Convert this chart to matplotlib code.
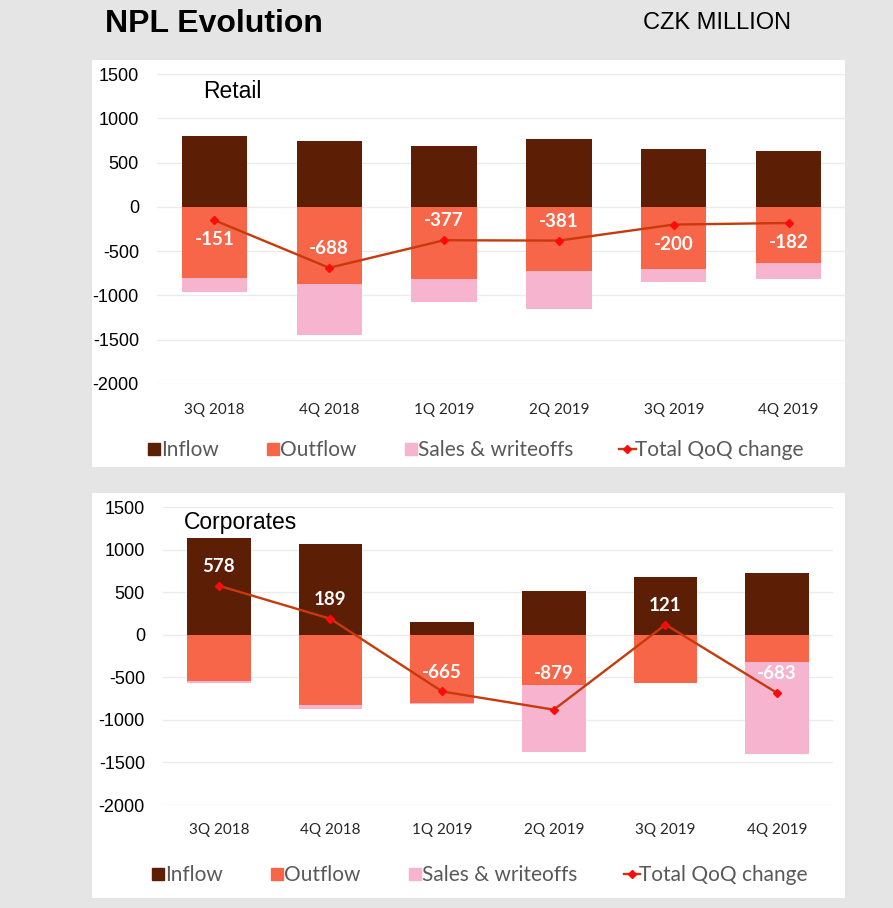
import numpy as np
import matplotlib.pyplot as plt
from matplotlib.patches import Rectangle
from matplotlib.lines import Line2D

quarters = ['3Q 2018', '4Q 2018', '1Q 2019', '2Q 2019', '3Q 2019', '4Q 2019']

retail_inflow = [800, 745, 685, 765, 650, 628]
retail_outflow = [-808, -872, -819, -725, -703, -638]
retail_sales = [-158, -575, -256, -429, -150, -177]
retail_qoq = [-151, -688, -377, -381, -200, -182]

corp_inflow = [1144, 1067, 149, 514, 678, 733]
corp_outflow = [-537, -823, -803, -588, -561, -314]
corp_sales = [-31, -44, -10, -792, 0, -1089]
corp_qoq = [578, 189, -665, -879, 121, -683]

y_ticks = [1500, 1000, 500, 0, -500, -1000, -1500, -2000]

# label offsets (points) above/below the line markers
retail_lbl_off = [-14, 14, 14, 14, -14, -14]
corp_lbl_off = [14, 14, 14, 26, 14, 14]

C_IN = '#5c1e05'
C_OUT = '#f8664a'
C_SALES = '#f6b4cf'
C_LINE = '#c63a0c'
C_MARK = '#ff0a0a'
BG = '#e5e5e5'


def panel(fig, rect, ax_rect, title, title_xy, inflow, outflow, sales, qoq, offs, leg_xy, xpad):
    fig.add_artist(Rectangle(rect[:2], rect[2], rect[3], transform=fig.transFigure,
                             facecolor='white', edgecolor='none', zorder=0))
    ax = fig.add_axes(ax_rect)
    x = np.arange(len(quarters))
    w = 0.57
    ax.bar(x, inflow, w, color=C_IN, zorder=2)
    ax.bar(x, outflow, w, color=C_OUT, zorder=2)
    ax.bar(x, sales, w, bottom=outflow, color=C_SALES, zorder=2)
    ax.plot(x, qoq, color=C_LINE, lw=1.7, marker='D', ms=4.5, mfc=C_MARK, mec=C_MARK, zorder=3)
    for xi, v, o in zip(x, qoq, offs):
        ax.annotate(str(v), (xi, v), xytext=(0, o), textcoords='offset points',
                    ha='center', va='center', color='white', fontweight='bold',
                    fontsize=13.5, family='Lato', zorder=4)
    ax.set_xlim(-0.5, len(quarters) - 0.5)
    ax.set_ylim(-2000, 1500)
    ax.set_yticks(y_ticks)
    ax.set_yticklabels([str(t) for t in y_ticks], family='Liberation Sans', fontsize=13)
    ax.set_xticks(x)
    ax.set_xticklabels(quarters, family='Lato', fontsize=11, color='#262626')
    ax.tick_params(length=0)
    ax.tick_params(axis='y', pad=13)
    ax.tick_params(axis='x', pad=xpad)
    ax.grid(axis='y', color='#ebebeb', lw=1, zorder=0)
    for s in ax.spines.values():
        s.set_visible(False)
    ax.set_facecolor('none')
    fig.text(title_xy[0], title_xy[1], title, family='Liberation Sans', fontsize=16.5,
             va='center', ha='left')

    handles = [Line2D([], [], ls='none', marker='s', ms=9, mfc=C_IN, mec=C_IN),
               Line2D([], [], ls='none', marker='s', ms=9, mfc=C_OUT, mec=C_OUT),
               Line2D([], [], ls='none', marker='s', ms=9, mfc=C_SALES, mec=C_SALES),
               Line2D([], [], color=C_LINE, lw=1.7, marker='D', ms=4, mfc=C_MARK, mec=C_MARK)]
    labels = ['Inflow', 'Outflow', 'Sales & writeoffs', 'Total QoQ change']
    leg = ax.legend(handles, labels, ncol=4, loc='center', bbox_to_anchor=leg_xy,
                    bbox_transform=fig.transFigure, frameon=False,
                    prop={'family': 'Lato', 'size': 15}, handlelength=0.8,
                    handletextpad=-0.05, columnspacing=2.2, borderpad=0)
    for t in leg.get_texts():
        t.set_color('#595959')
    return ax


fig = plt.figure(figsize=(8.93, 9.08), dpi=100, facecolor=BG)

panel(fig, (0.103, 0.4857, 0.8432, 0.4482), (0.1758, 0.5771, 0.7716, 0.3414),
      'Retail', (0.2273, 0.899),
      retail_inflow, retail_outflow, retail_sales, retail_qoq, retail_lbl_off, (0.531, 0.5044), 14)

panel(fig, (0.103, 0.011, 0.8432, 0.446), (0.1825, 0.1134, 0.7503, 0.3279),
      'Corporates', (0.206, 0.425),
      corp_inflow, corp_outflow, corp_sales, corp_qoq, corp_lbl_off, (0.536, 0.0363), 13)

fig.text(0.1176, 0.9735, 'NPL Evolution', family='Liberation Sans', fontweight='bold',
         fontsize=23, va='center', ha='left')
fig.text(0.72, 0.9745, 'CZK MILLION', family='Liberation Sans', fontsize=17,
         va='center', ha='left')

fig.savefig('out.png', dpi=100, facecolor=BG)
